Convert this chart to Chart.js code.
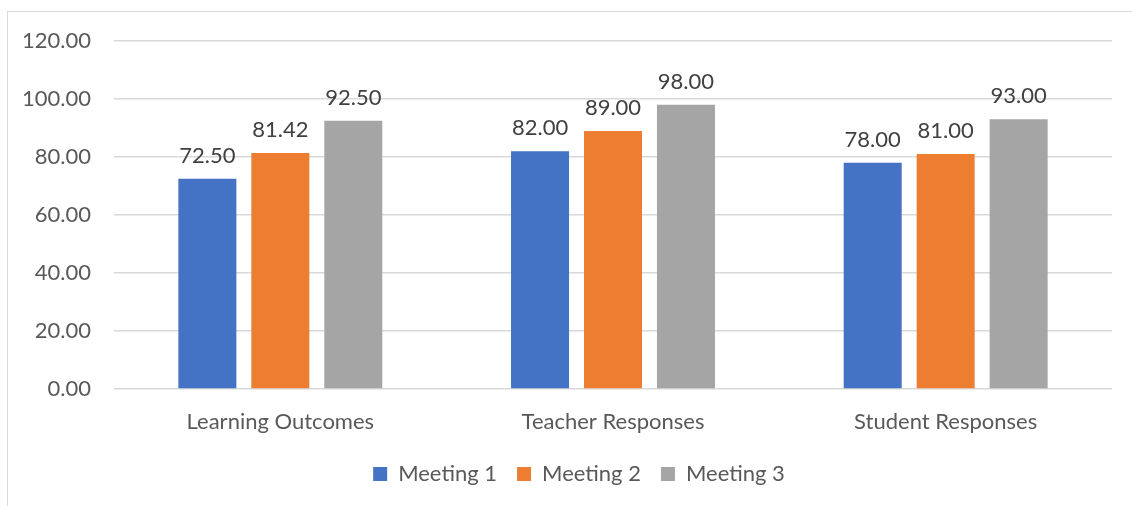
<!DOCTYPE html>
<html>
<head>
<meta charset="utf-8">
<script src="https://cdn.jsdelivr.net/npm/chart.js@4.4.1/dist/chart.umd.min.js"></script>
<style>
  html, body { margin: 0; padding: 0; background: #fff; }
  #wrap { position: relative; width: 1132px; height: 506px; overflow: hidden; }
  #frame {
    position: absolute; left: 7px; top: 11px; width: 1200px; height: 600px;
    border-left: 1.5px solid #d9d9d9; border-top: 1.5px solid #d9d9d9;
  }
  canvas { position: absolute; left: 0; top: 0; }
</style>
</head>
<body>
<div id="wrap">
  <div id="frame"></div>
  <canvas id="chart" width="1132" height="506"></canvas>
</div>
<script>
// dados do gráfico
const categories = ["Learning Outcomes", "Teacher Responses", "Student Responses"];
const meeting1 = [72.50, 82.00, 78.00];
const meeting2 = [81.42, 89.00, 81.00];
const meeting3 = [92.50, 98.00, 93.00];
const seriesNames = ["Meeting 1", "Meeting 2", "Meeting 3"];
const seriesColors = ["#4472C4", "#ED7D31", "#A5A5A5"];
const yTicks = [0, 20, 40, 60, 80, 100, 120];

const FONT = "Lato, 'Noto Sans', sans-serif";
const TEXT = "#595959";

// rótulos de valor acima das barras
const valueLabels = {
  id: "valueLabels",
  afterDatasetsDraw(chart) {
    const ctx = chart.ctx;
    ctx.save();
    ctx.font = "22px " + FONT;
    ctx.fillStyle = "#404040";
    ctx.textAlign = "center";
    ctx.textBaseline = "alphabetic";
    chart.data.datasets.forEach((ds, i) => {
      chart.getDatasetMeta(i).data.forEach((bar, j) => {
        ctx.fillText(ds.data[j].toFixed(2), bar.x, bar.y - 16);
      });
    });
    ctx.restore();
  }
};

// legenda centrada na área do gráfico (como no original)
const legendShift = {
  id: "legendShift",
  afterLayout(chart) {
    chart.legend.left += 26;
  }
};

const series = [meeting1, meeting2, meeting3];

new Chart(document.getElementById("chart").getContext("2d"), {
  type: "bar",
  data: {
    labels: categories,
    datasets: series.map((values, i) => ({
      label: seriesNames[i],
      data: values,
      backgroundColor: seriesColors[i],
      borderWidth: 0,
      categoryPercentage: 0.658,
      barPercentage: 0.795
    }))
  },
  options: {
    responsive: false,
    animation: false,
    layout: { padding: { left: 20, right: 20, top: 41, bottom: 11 } },
    plugins: {
      legend: {
        position: "bottom",
        labels: {
          font: { family: FONT, size: 22 },
          color: TEXT,
          boxWidth: 14,
          boxHeight: 14,
          padding: 20
        }
      },
      tooltip: { enabled: false }
    },
    scales: {
      x: {
        grid: { display: false },
        border: { display: false },
        ticks: { font: { family: FONT, size: 22 }, color: TEXT, padding: 12 },
        afterFit(scale) { scale.height = 54; }
      },
      y: {
        min: 0,
        max: 120,
        afterBuildTicks(scale) { scale.ticks = yTicks.map(v => ({ value: v })); },
        grid: { color: "#d9d9d9", lineWidth: 1.5, drawTicks: false },
        border: { display: false },
        ticks: {
          font: { family: FONT, size: 22 },
          color: TEXT,
          padding: 23,
          callback: v => Number(v).toFixed(2)
        },
        afterFit(scale) { scale.width = 94; }
      }
    }
  },
  plugins: [valueLabels, legendShift]
});
</script>
</body>
</html>
